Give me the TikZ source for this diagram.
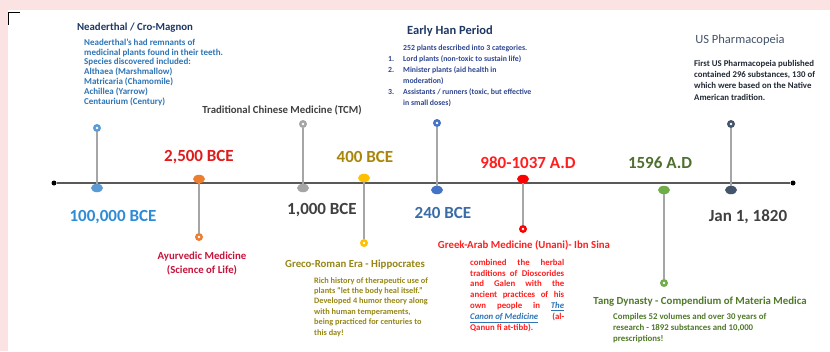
\documentclass[tikz,border=0pt]{standalone}
\usepackage{fontspec}
\setmainfont{Carlito}
\usetikzlibrary{shapes.geometric}
\newcommand\fsz[2]{\fontsize{#1}{#2}\selectfont}
\definecolor{pinkbg}{HTML}{FBE3E3}
\definecolor{tlgray}{HTML}{595959}
\definecolor{conngray}{HTML}{A6A6A6}
\definecolor{navyT}{HTML}{1F3864}
\definecolor{blueBody}{HTML}{2E75B6}
\definecolor{hanBody}{HTML}{2F4690}
\definecolor{usTitle}{HTML}{44546A}
\definecolor{usBody}{HTML}{222A35}
\definecolor{darkgr}{HTML}{404040}
\definecolor{cBlueDate}{HTML}{2E8BD6}
\definecolor{cRedDate}{HTML}{E01B1B}
\definecolor{cGold}{HTML}{A8860B}
\definecolor{cOlive}{HTML}{968716}
\definecolor{cSteel}{HTML}{3A6DA8}
\definecolor{cRed}{HTML}{FF1F1F}
\definecolor{cGreenDate}{HTML}{4F6F2F}
\definecolor{cGreen}{HTML}{4F7A28}
\definecolor{cCrimson}{HTML}{C8143C}
\definecolor{linkblue}{HTML}{2E75B6}
\definecolor{dBlue}{HTML}{5B9BD5}
\definecolor{dOrange}{HTML}{ED7D31}
\definecolor{dGray}{HTML}{A5A5A5}
\definecolor{dYellow}{HTML}{FFC000}
\definecolor{dRoyal}{HTML}{4472C4}
\definecolor{dRed}{HTML}{FF0000}
\definecolor{dGreen}{HTML}{70AD47}
\definecolor{dNavy}{HTML}{44546A}
\begin{document}
\begin{tikzpicture}[x=1pt,y=-1pt,
  tdot/.style={ellipse, minimum width=12pt, minimum height=8.5pt, inner sep=0pt, fill=#1},
  ring/.style={circle, minimum size=8pt, inner sep=0pt, fill=#1,
     path picture={\fill[white] (path picture bounding box.center) circle (1.4pt);}},
  enddot/.style={circle, fill=black, minimum size=5pt, inner sep=0pt},
  conn/.style={line width=1.1pt, draw=conngray},
  datelbl/.style={font=\fsz{17}{20}\bfseries, text=#1, inner sep=0pt},
  ttl/.style={font=\fsz{10.8}{13}\bfseries, text=#1, inner sep=0pt},
  bodytxt/.style={align=left, anchor=north west, inner sep=0pt, text=#1}
]
\useasboundingbox (0,0) rectangle (830,351);
\fill[pinkbg] (0,0) rectangle (830,351);
\fill[white] (8,10) rectangle (830,351);
\draw[black, line width=1.6pt] (20,12.5) -- (8.5,12.5) -- (8.5,25);

% timeline
\node[enddot] (e1) at (54,183) {};
\node[enddot] (e2) at (793,183) {};
\draw[line width=1.8pt, tlgray] (e1) -- (e2);

% dots on the line
\node[tdot=dBlue] (d1) at (97,188) {};
\node[tdot=dOrange] (d2) at (199,179) {};
\node[tdot=dGray] (d3) at (303,188) {};
\node[tdot=dYellow] (d4) at (364,178) {};
\node[tdot=dRoyal] (d5) at (437,190) {};
\node[tdot=dRed] (d6) at (523,179) {};
\node[tdot=dGreen] (d7) at (664,190) {};
\node[tdot=dNavy] (d8) at (731,190) {};

% rings
\node[ring=dBlue] (r1) at (97,128) {};
\node[ring=dOrange] (r2) at (199,237) {};
\node[ring=dGray] (r3) at (303,124) {};
\node[ring=dYellow] (r4) at (364,243) {};
\node[ring=dRoyal] (r5) at (437,123) {};
\node[ring=dRed] (r6) at (523,229) {};
\node[ring=dGreen] (r7) at (664,283) {};
\node[ring=dNavy] (r8) at (731,124) {};

\draw[conn] (r1) -- (d1);
\draw[conn] (d2) -- (r2);
\draw[conn] (r3) -- (d3);
\draw[conn] (d4) -- (r4);
\draw[conn] (r5) -- (d5);
\draw[conn] (d6) -- (r6);
\draw[conn] (d7) -- (r7);
\draw[conn] (r8) -- (d8);

% dates
\node[datelbl=cBlueDate] (t1) at (113,217) {100,000 BCE};
\node[datelbl=cRedDate] (t2) at (199,157) {2,500 BCE};
\node[datelbl=darkgr] (t3) at (322,210) {1,000 BCE};
\node[datelbl=cGold] (t4) at (365,157) {400 BCE};
\node[datelbl=cSteel] (t5) at (443,213) {240 BCE};
\node[datelbl=cRed] (t6) at (528,163) {980-1037 A.D};
\node[datelbl=cGreenDate] (t7) at (660,163) {1596 A.D};
\node[datelbl=darkgr] (t8) at (748,217) {Jan 1, 1820};

% Neaderthal
\node[ttl=navyT] (h1) at (135,28) {Neaderthal / Cro-Magnon};
\node[bodytxt=blueBody, font=\fsz{9}{9.8}\bfseries] (b1) at (84,38.5) {Neaderthal's had remnants of\\medicinal plants found in their teeth.\\Species discovered included:\\Althaea (Marshmallow)\\Matricaria (Chamomile)\\Achillea (Yarrow)\\Centaurium (Century)};

% TCM
\node[ttl=darkgr] (h3) at (282,110) {Traditional Chinese Medicine (TCM)};

% Early Han
\node[ttl=navyT, font=\fsz{12.5}{14}\bfseries] (h5) at (450,31) {Early Han Period};
\node[bodytxt=hanBody, font=\fsz{7.8}{11}\bfseries] (b5) at (388,45) {\hspace*{15pt}252 plants described into 3 categories.\\\makebox[15pt][l]{1.}Lord plants (non-toxic to sustain life)\\\makebox[15pt][l]{2.}Minister plants (aid health in\\\hspace*{15pt}moderation)\\\makebox[15pt][l]{3.}Assistants / runners (toxic, but effective\\\hspace*{15pt}in small doses)};

% US Pharmacopeia
\node[text=usTitle, font=\fsz{12.5}{14}, inner sep=0pt] (h8) at (740,40) {US Pharmacopeia};
\node[bodytxt=usBody, font=\fsz{8.8}{11.3}\bfseries] (b8) at (694,60) {First US Pharmacopeia published\\contained 296 substances, 130 of\\which were based on the Native\\American tradition.};

% Ayurvedic
\node[ttl=cCrimson, align=center, font=\fsz{10.8}{14}\bfseries] (h2) at (202,264) {Ayurvedic Medicine\\(Science of Life)};

% Greco-Roman
\node[ttl=cOlive] (h4) at (355,265) {Greco-Roman Era - Hippocrates};
\node[bodytxt=cOlive, font=\fsz{8.3}{10.4}\bfseries] (b4) at (314,277) {Rich history of therapeutic use of\\plants ``let the body heal itself.''\\Developed 4 humor theory along\\with human temperaments,\\being practiced for centuries to\\this day!};

% Greek-Arab
\node[ttl=cRed] (h6) at (524,245) {Greek-Arab Medicine (Unani)- Ibn Sina};
\node[bodytxt=cRed, font=\fsz{8.8}{10.8}\bfseries] (b6) at (470,259) {\makebox[94pt][s]{combined the herbal}\\\makebox[94pt][s]{traditions of Dioscorides}\\\makebox[94pt][s]{and Galen with the}\\\makebox[94pt][s]{ancient practices of his}\\\makebox[94pt][s]{own people in \textcolor{linkblue}{\underline{\textit{The}}}}\\\makebox[94pt][s]{\textcolor{linkblue}{\underline{\textit{Canon of Medicine}}} (al-}\\Qanun fi at-tibb).};

% Tang
\node[ttl=cGreen] (h7) at (700,302) {Tang Dynasty - Compendium of Materia Medica};
\node[bodytxt=cGreen, font=\fsz{8.8}{11}\bfseries] (b7) at (613,313) {Compiles 52 volumes and over 30 years of\\research - 1892 substances and 10,000\\prescriptions!};
\end{tikzpicture}
\end{document}
